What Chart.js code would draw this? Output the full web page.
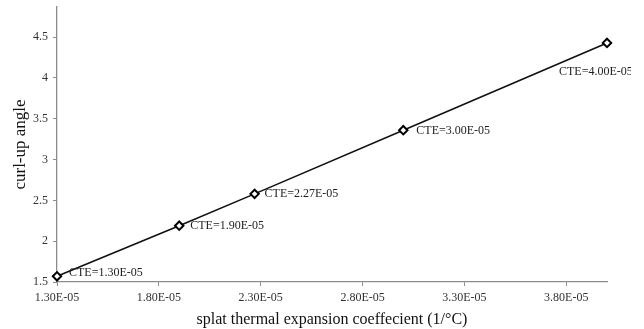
<!DOCTYPE html>
<html>
<head>
<meta charset="utf-8">
<script src="https://cdn.jsdelivr.net/npm/chart.js@4/dist/chart.umd.min.js"></script>
<style>
html,body{margin:0;padding:0;background:#fff;}
#wrap{width:644px;height:329px;position:relative;}
</style>
</head>
<body>
<div id="wrap"><canvas id="c" width="644" height="329"></canvas></div>
<script>
// Data
const cteValues = [1.30e-5, 1.90e-5, 2.27e-5, 3.00e-5, 4.00e-5];
const curlUpAngle = [1.57, 2.19, 2.58, 3.36, 4.43];
const pointLabels = ["CTE=1.30E-05", "CTE=1.90E-05", "CTE=2.27E-05", "CTE=3.00E-05", "CTE=4.00E-05"];
const xTicks = [1.30e-5, 1.80e-5, 2.30e-5, 2.80e-5, 3.30e-5, 3.80e-5];
const yTicks = [1.5, 2, 2.5, 3, 3.5, 4, 4.5];
const xTitle = "splat thermal expansion coeffecient (1/°C)";
const yTitle = "curl-up angle";

function fmtE(v){
  const s = v.toExponential(2).toUpperCase();
  const m = s.match(/^(-?[\d.]+)E([+-])(\d+)$/);
  if(!m) return s;
  return m[1] + "E" + m[2] + m[3].padStart(2,"0");
}

const SERIF = "'Liberation Serif','Times New Roman',serif";
const AXIS = "#8c8c8c";

// label offsets (style, relative to point)
const labelOffsets = [[12,-3],[11,0],[10,0],[13,1],[-48,29]];

const labelPlugin = {
  id: 'pointLabels',
  afterDatasetsDraw(chart){
    const ctx = chart.ctx;
    const meta = chart.getDatasetMeta(0);
    ctx.save();
    ctx.beginPath();
    ctx.rect(0,0,631,329);
    ctx.clip();
    ctx.font = "12px " + SERIF;
    ctx.fillStyle = "#222";
    ctx.textAlign = "left";
    ctx.textBaseline = "middle";
    meta.data.forEach((pt,i)=>{
      const o = labelOffsets[i];
      ctx.fillText(pointLabels[i], pt.x + o[0], pt.y + o[1]);
    });
    ctx.restore();
  }
};

new Chart(document.getElementById('c'), {
  type: 'scatter',
  data: {
    datasets: [{
      data: cteValues.map((x,i)=>({x:x, y:curlUpAngle[i]})),
      showLine: true,
      clip: false,
      borderColor: '#111',
      borderWidth: 1.6,
      pointStyle: 'rectRot',
      pointRadius: 4.2,
      pointBorderWidth: 2,
      pointBorderColor: '#000',
      pointBackgroundColor: '#fff',
      tension: 0
    }]
  },
  options: {
    responsive: false,
    animation: false,
    devicePixelRatio: 1,
    layout: { padding: { top: 7, right: 37, left: 0, bottom: 0 } },
    plugins: { legend: {display:false}, tooltip: {enabled:false}, title: {display:false} },
    scales: {
      x: {
        type: 'linear',
        min: 1.3e-5,
        max: 4.0e-5,
        afterBuildTicks(s){ s.ticks = xTicks.map(v=>({value:v})); },
        afterFit(s){ s.height = 47; s.paddingLeft = 0; s.paddingRight = 0; },
        ticks: {
          callback: (v)=>fmtE(v),
          font: { family: SERIF, size: 12 },
          color: '#333',
          padding: 5,
          maxRotation: 0,
          autoSkip: false
        },
        grid: { drawOnChartArea: false, drawTicks: true, tickLength: 4, color: AXIS, lineWidth: 1 },
        border: { color: AXIS, width: 1.3 },
        title: { display: true, text: xTitle, font: { family: SERIF, size: 16 }, color: '#111', padding: { top: 1, bottom: 0 } }
      },
      y: {
        type: 'linear',
        min: 1.5,
        max: 4.87,
        afterBuildTicks(s){ s.ticks = yTicks.map(v=>({value:v})); },
        afterFit(s){ s.width = 57; s.paddingTop = 0; s.paddingBottom = 0; },
        ticks: {
          callback: (v)=>String(v),
          font: { family: SERIF, size: 12 },
          color: '#333',
          padding: 5
        },
        grid: { drawOnChartArea: false, drawTicks: true, tickLength: 4, color: AXIS, lineWidth: 1 },
        border: { color: AXIS, width: 1.3 },
        title: { display: true, text: yTitle, font: { family: SERIF, size: 17 }, color: '#111', padding: { top: 10, bottom: 0 } }
      }
    }
  },
  plugins: [labelPlugin]
});
</script>
</body>
</html>
